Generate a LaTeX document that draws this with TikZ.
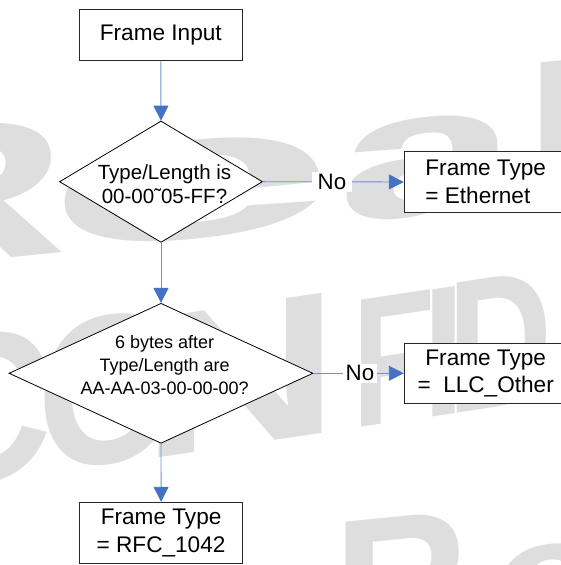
\documentclass[tikz,border=0pt]{standalone}
\usepackage{fontspec}
\setmainfont{Liberation Sans}
\usetikzlibrary{shapes.geometric,arrows.meta}
\definecolor{wmgray}{RGB}{222,222,222}
\definecolor{linec}{RGB}{110,145,210}
\definecolor{arrowc}{RGB}{68,114,196}
\definecolor{boxline}{RGB}{40,40,40}
\newcommand{\wmf}{\bfseries}
% watermark letter: name, x, y (box bottom-left), width, total height, slant, letter
\newcommand{\wml}[7]{\begin{scope}[shift={(#2,#3)}, yslant=#6]
  \node[wmtext, anchor=south west, transform shape] (#1) at (0,0) {\resizebox*{#4pt}{#5pt}{\wmf #7}};
\end{scope}}
\tikzset{
  wmtext/.style={inner sep=0pt, outer sep=0pt, text=wmgray},
  procbox/.style={draw=boxline, line width=1pt, fill=white, rectangle, inner sep=0pt,
    minimum width=162.8pt, minimum height=61pt, align=center,
    font=\fontsize{22.6}{27.5}\selectfont},
  decision/.style={draw=black, line width=0.8pt, fill=white, diamond, inner sep=0pt},
  dtext/.style={inner sep=0pt, align=center},
  flow/.style={draw=linec, line width=0.9pt,
    -{Triangle[length=15pt,width=15pt,color=arrowc]}},
  nolab/.style={fill=white, inner ysep=2pt, font=\fontsize{22.3}{26}\selectfont},
}
\begin{document}
\begin{tikzpicture}[x=1pt,y=1pt]
\useasboundingbox (0,0) rectangle (561,565);
\fill[white] (0,0) rectangle (561,565);
% watermark
\begin{scope}
\clip (0,0) rectangle (561,565);
\wml{wR1}{-157}{290.3}{226}{137}{0.1}{R}
\wml{we1}{44}{310.4}{292}{99}{0.1}{e}
\wml{wa1}{337}{339.7}{182}{99}{0.1}{a}
\wml{wl1}{516}{357.6}{98}{142}{0.1}{l}
\wml{wC2}{-89}{70}{142}{150}{0.15}{C}
\wml{wO2}{37}{89}{145}{150}{0.15}{O}
\wml{wN2}{140}{104.2}{200}{140}{0.15}{N}
\wml{wF2}{352}{136}{83}{127}{0.15}{F}
\wml{wI2}{422}{146.5}{43}{127}{0.15}{I}
\wml{wD2}{447.5}{150.4}{105}{130}{0.15}{D}
\wml{wR3}{333}{-98.4}{136}{140}{0.1}{R}
\wml{we3}{490.5}{-85.6}{117}{100}{0.1}{e}
\end{scope}
% flowchart
\node[procbox, minimum height=51pt] (inp) at (160.8,529.5) {Frame Input};
\node[decision, minimum width=203pt, minimum height=121.4pt] (d1) at (161,383.3) {};
\node[dtext, font=\fontsize{20.5}{24}\selectfont] (d1t) at (164.5,380.9) {Type/Length is\\00-00\char"02DC 05-FF?};
\node[procbox, minimum height=60.6pt, align=left] (eth) at (485.7,383) {Frame Type\\= Ethernet};
\node[decision, minimum width=304pt, minimum height=140pt] (d2) at (161,191.7) {};
\node[dtext, font=\fontsize{18}{23.3}\selectfont] (d2t) at (164.6,199.8) {6 bytes after\\Type/Length are\\AA-AA-03-00-00-00?};
\node[procbox, minimum height=60pt] (llc) at (485.7,191.7) {Frame Type\\=\ \ LLC\_Other};
\node[procbox, minimum height=61pt] (rfc) at (161.1,32.2) {Frame Type\\= RFC\_1042};
% connectors
\draw[flow] (inp.south) -- (d1.north);
\draw[flow] (d1.east) -- node[nolab, inner xsep=6pt, pos=0.49] (no1) {No} (eth.west);
\draw[flow] (d1.south) -- (d2.north);
\draw[flow] (d2.east) -- node[nolab, inner xsep=2.5pt, pos=0.515] (no2) {No} (llc.west);
\draw[flow] (d2.south) -- (rfc.north);
\end{tikzpicture}
\end{document}
